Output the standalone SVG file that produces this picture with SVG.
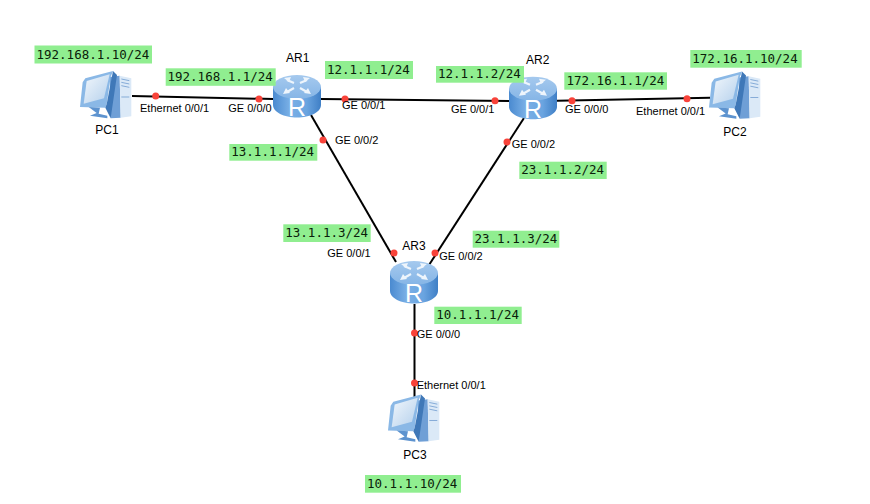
<svg xmlns="http://www.w3.org/2000/svg" width="870" height="504" viewBox="0 0 870 504">
<style>
.l{stroke:#000;stroke-width:2;fill:none}
.d{fill:#f8433a}
.b{fill:#90ee90}
.ip{font-family:"DejaVu Sans Mono","Liberation Mono",monospace;font-size:12.5px;fill:#0a200a}
.p{font-family:"Liberation Sans",Arial,sans-serif;font-size:11px;fill:#000}
.n{font-family:"Liberation Sans",Arial,sans-serif;font-size:12px;fill:#000}
.r{font-family:"Liberation Sans",Arial,sans-serif;font-size:25px;fill:#fff}
.a{stroke:#eef5fc;stroke-width:2.200;fill:none}
.h{fill:#eef5fc}
</style>
<defs>
<linearGradient id="rb" x1="0" x2="1" y1="0" y2="0">
<stop offset="0" stop-color="#4a8ad0"/><stop offset=".35" stop-color="#7ab0e6"/><stop offset=".7" stop-color="#6aa4e0"/><stop offset="1" stop-color="#3f7fc6"/>
</linearGradient>
<linearGradient id="rt" x1="0" x2="0" y1="0" y2="1">
<stop offset="0" stop-color="#a5c9ee"/><stop offset="1" stop-color="#85b5e6"/>
</linearGradient>
<linearGradient id="scr" x1="0" x2="1" y1="0" y2="1">
<stop offset="0" stop-color="#f2f7fc"/><stop offset="1" stop-color="#b4d0ec"/>
</linearGradient>
<g id="router">
<path d="M0 12V30C0 37 11 42.500 24 42.500S48 37 48 30V12Z" fill="url(#rb)"/>
<ellipse cx="24" cy="12" rx="24" ry="12" fill="url(#rt)"/>
<path class="a" d="M21 8L14 5M27 8L34 5M21 13L14 17M27 13L34 17"/>
<path class="h" d="M11 3L18 2 16 7ZM37 3L30 2 32 7ZM10 19L13 13 17 18ZM38 19L35 13 31 18Z"/>
<text class="r" x="24" y="41" text-anchor="middle">R</text>
</g>
<g id="pc">
<path d="M125 30L155 26 158 152 128 154Z" fill="#6f9fd6"/>
<path d="M155 26L190 34V148L158 152Z" fill="#dbe9f7"/>
<path d="M160 36l24 5M160 46l24 5M160 56l24 5M160 90h24" stroke="#86acd8" stroke-width="3" fill="none"/>
<path d="M52 34L135 12 128 30 116 112 112 122 36 120 44 46Z" fill="#8ab8e6"/>
<path d="M135 12L147 24 128 154 112 122 116 112Z" fill="#3f78b8"/>
<path d="M56 42L125 22 108 94 47 110Z" fill="url(#scr)"/>
<path d="M62 120L96 122 92 140 118 146 118 154 66 146 86 138Z" fill="#5d93cf"/>
</g>
</defs>
<g id="connectors">
<path class="l" d="M132 96L273 99"/>
<path class="l" d="M321 99L509 101"/>
<path class="l" d="M557 100.700L710 97.700"/>
<path class="l" d="M311 115L396 262"/>
<path class="l" d="M524 118L429 265"/>
<path class="l" d="M414.500 304V397"/>
<g>
<circle class="d" cx="155.700" cy="96" r="3.500"/><circle class="d" cx="259" cy="99" r="3.500"/>
<circle class="d" cx="345" cy="99" r="3.500"/><circle class="d" cx="495" cy="100.700" r="3.500"/>
<circle class="d" cx="572" cy="100.700" r="3.500"/><circle class="d" cx="687" cy="98.700" r="3.500"/>
<circle class="d" cx="323" cy="140" r="3.500"/><circle class="d" cx="394" cy="253" r="3.500"/>
<circle class="d" cx="507" cy="142" r="3.500"/><circle class="d" cx="435" cy="253" r="3.500"/>
<circle class="d" cx="414.500" cy="333" r="3.500"/><circle class="d" cx="414.500" cy="383" r="3.500"/>
</g>
<g>
<text class="p" x="140" y="111.700">Ethernet 0/0/1</text>
<text class="p" x="228.300" y="112">GE 0/0/0</text>
<text class="p" x="342" y="109">GE 0/0/1</text>
<text class="p" x="451" y="113">GE 0/0/1</text>
<text class="p" x="565" y="113">GE 0/0/0</text>
<text class="p" x="636" y="115.300">Ethernet 0/0/1</text>
<text class="p" x="335" y="144">GE 0/0/2</text>
<text class="p" x="327.300" y="257">GE 0/0/1</text>
<text class="p" x="511.700" y="148">GE 0/0/2</text>
<text class="p" x="439.300" y="260">GE 0/0/2</text>
<text class="p" x="416.700" y="338">GE 0/0/0</text>
<text class="p" x="416.700" y="389">Ethernet 0/0/1</text>
</g>
</g>
<g id="PC1"><use href="#pc" transform="translate(68 67) scale(.3333)"/><text class="n" x="95.300" y="134">PC1</text></g>
<g id="PC2"><use href="#pc" transform="translate(697 67.500) scale(.3333)"/><text class="n" x="723.300" y="136">PC2</text></g>
<g id="PC3"><use href="#pc" transform="translate(376 390.500) scale(.3333)"/><text class="n" x="403.300" y="459">PC3</text></g>
<g id="AR1"><use href="#router" transform="translate(273 75)"/><text class="n" x="286" y="61.700">AR1</text></g>
<g id="AR2"><use href="#router" transform="translate(509 76.700)"/><text class="n" x="526" y="64">AR2</text></g>
<g id="AR3"><use href="#router" transform="translate(390 261)"/><text class="n" x="402.300" y="250">AR3</text></g>
<g id="labels">
<rect class="b" x="34.500" y="45.500" width="117.500" height="18"/><text class="ip" x="36.500" y="58.500">192.168.1.10/24</text>
<rect class="b" x="165.700" y="68.300" width="110" height="17.500"/><text class="ip" x="167.500" y="80.500">192.168.1.1/24</text>
<rect class="b" x="325" y="61" width="88" height="18"/><text class="ip" x="327" y="74">12.1.1.1/24</text>
<rect class="b" x="229.300" y="144" width="88" height="16.700"/><text class="ip" x="231.300" y="156">13.1.1.1/24</text>
<rect class="b" x="436" y="66" width="88" height="16.700"/><text class="ip" x="438" y="78">12.1.1.2/24</text>
<rect class="b" x="564.300" y="72.300" width="102.700" height="17.400"/><text class="ip" x="566.500" y="85">172.16.1.1/24</text>
<rect class="b" x="690.300" y="50" width="111.400" height="17.700"/><text class="ip" x="692.300" y="63">172.16.1.10/24</text>
<rect class="b" x="519.300" y="161.700" width="87.400" height="17.300"/><text class="ip" x="521.300" y="174">23.1.1.2/24</text>
<rect class="b" x="283.300" y="224.300" width="87.400" height="17.700"/><text class="ip" x="285.300" y="236.500">13.1.1.3/24</text>
<rect class="b" x="472.700" y="230.700" width="86.600" height="17"/><text class="ip" x="474.500" y="243">23.1.1.3/24</text>
<rect class="b" x="434.300" y="306.700" width="87.400" height="17.300"/><text class="ip" x="436.300" y="319">10.1.1.1/24</text>
<rect class="b" x="365" y="475" width="96" height="17.700"/><text class="ip" x="367" y="487.500">10.1.1.10/24</text>
</g>
</svg>
